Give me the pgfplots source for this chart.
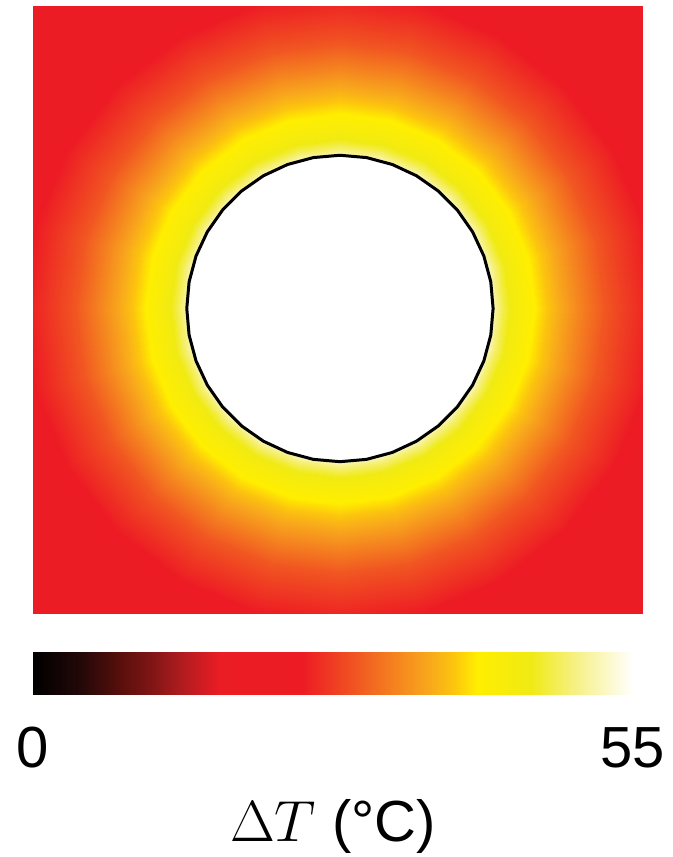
\documentclass[border=0pt]{standalone}
\usepackage{fix-cm}
\usepackage[no-math]{fontspec}
\setmainfont{Liberation Sans}
\usepackage{pgfplots}
\pgfplotsset{compat=1.18}
\begin{document}
\begin{tikzpicture}
\path[use as bounding box] (-16.5pt,-121.5pt) rectangle (320pt,307pt);
\begin{axis}[
  name=main,
  at={(0,0)}, anchor=south west,
  scale only axis, width=304.5pt, height=304pt,
  view={0}{90},
  xmin=-1.008, xmax=0.992, ymin=-1.003, ymax=0.993,
  hide axis,
  colormap={heat}{
    rgb255(0pt)=(0,0,0);
    rgb255(8pt)=(35,8,8);
    rgb255(15pt)=(92,16,12);
    rgb255(20pt)=(130,22,22);
    rgb255(25pt)=(178,28,32);
    rgb255(31pt)=(234,28,36);
    rgb255(45pt)=(237,28,36);
    rgb255(52pt)=(240,74,34);
    rgb255(59pt)=(244,122,32);
    rgb255(66pt)=(248,168,28);
    rgb255(70pt)=(252,196,14);
    rgb255(74pt)=(255,238,0);
    rgb255(83pt)=(240,234,20);
    rgb255(90pt)=(246,240,128);
    rgb255(100pt)=(255,255,255)
  },
  point meta min=0, point meta max=55,
  colorbar horizontal,
  colorbar/width=21pt,
  colorbar style={
    at={(parent axis.south west)}, anchor=north west, yshift=-10.5pt,
    scale only axis, width=300pt, height=21pt,
    xtick={0,55}, xticklabels={0,55},
    major tick length=0pt,
    axis line style={draw=none},
    xticklabel style={font=\fontsize{29}{34}\selectfont, inner sep=0pt, yshift=-16.5pt},
    xlabel={$\Delta T$ (°C)},
    xlabel style={font=\fontsize{29}{34}\selectfont, at={(axis description cs:0.5,0)}, anchor=base, yshift=-73.5pt},
  },
]
\addplot3[surf, shader=interp, data cs=polar, mesh/cols=25, point meta=z] coordinates {
(0,0.46,53) (15,0.46,53) (30,0.46,53) (45,0.46,53) (60,0.46,53) (75,0.46,53) (90,0.46,53) (105,0.46,53) (120,0.46,53) (135,0.46,53) (150,0.46,53) (165,0.46,53) (180,0.46,53) (195,0.46,53) (210,0.46,53) (225,0.46,53) (240,0.46,53) (255,0.46,53) (270,0.46,53) (285,0.46,53) (300,0.46,53) (315,0.46,53) (330,0.46,53) (345,0.46,53) (360,0.46,53)
(0,0.50,52.5) (15,0.50,52.5) (30,0.50,52.5) (45,0.50,52.5) (60,0.50,52.5) (75,0.50,52.5) (90,0.50,52.5) (105,0.50,52.5) (120,0.50,52.5) (135,0.50,52.5) (150,0.50,52.5) (165,0.50,52.5) (180,0.50,52.5) (195,0.50,52.5) (210,0.50,52.5) (225,0.50,52.5) (240,0.50,52.5) (255,0.50,52.5) (270,0.50,52.5) (285,0.50,52.5) (300,0.50,52.5) (315,0.50,52.5) (330,0.50,52.5) (345,0.50,52.5) (360,0.50,52.5)
(0,0.52,49.5) (15,0.52,49.5) (30,0.52,49.5) (45,0.52,49.5) (60,0.52,49.5) (75,0.52,49.5) (90,0.52,49.5) (105,0.52,49.5) (120,0.52,49.5) (135,0.52,49.5) (150,0.52,49.5) (165,0.52,49.5) (180,0.52,49.5) (195,0.52,49.5) (210,0.52,49.5) (225,0.52,49.5) (240,0.52,49.5) (255,0.52,49.5) (270,0.52,49.5) (285,0.52,49.5) (300,0.52,49.5) (315,0.52,49.5) (330,0.52,49.5) (345,0.52,49.5) (360,0.52,49.5)
(0,0.54,47.3) (15,0.54,47.3) (30,0.54,47.3) (45,0.54,47.3) (60,0.54,47.3) (75,0.54,47.3) (90,0.54,47.3) (105,0.54,47.3) (120,0.54,47.3) (135,0.54,47.3) (150,0.54,47.3) (165,0.54,47.3) (180,0.54,47.3) (195,0.54,47.3) (210,0.54,47.3) (225,0.54,47.3) (240,0.54,47.3) (255,0.54,47.3) (270,0.54,47.3) (285,0.54,47.3) (300,0.54,47.3) (315,0.54,47.3) (330,0.54,47.3) (345,0.54,47.3) (360,0.54,47.3)
(0,0.57,44.4) (15,0.57,44.4) (30,0.57,44.4) (45,0.57,44.4) (60,0.57,44.4) (75,0.57,44.4) (90,0.57,44.4) (105,0.57,44.4) (120,0.57,44.4) (135,0.57,44.4) (150,0.57,44.4) (165,0.57,44.4) (180,0.57,44.4) (195,0.57,44.4) (210,0.57,44.4) (225,0.57,44.4) (240,0.57,44.4) (255,0.57,44.4) (270,0.57,44.4) (285,0.57,44.4) (300,0.57,44.4) (315,0.57,44.4) (330,0.57,44.4) (345,0.57,44.4) (360,0.57,44.4)
(0,0.62,41.8) (15,0.62,41.8) (30,0.62,41.8) (45,0.62,41.8) (60,0.62,41.8) (75,0.62,41.8) (90,0.62,41.8) (105,0.62,41.8) (120,0.62,41.8) (135,0.62,41.8) (150,0.62,41.8) (165,0.62,41.8) (180,0.62,41.8) (195,0.62,41.8) (210,0.62,41.8) (225,0.62,41.8) (240,0.62,41.8) (255,0.62,41.8) (270,0.62,41.8) (285,0.62,41.8) (300,0.62,41.8) (315,0.62,41.8) (330,0.62,41.8) (345,0.62,41.8) (360,0.62,41.8)
(0,0.66,39.6) (15,0.66,39.6) (30,0.66,39.6) (45,0.66,39.6) (60,0.66,39.6) (75,0.66,39.6) (90,0.66,39.6) (105,0.66,39.6) (120,0.66,39.6) (135,0.66,39.6) (150,0.66,39.6) (165,0.66,39.6) (180,0.66,39.6) (195,0.66,39.6) (210,0.66,39.6) (225,0.66,39.6) (240,0.66,39.6) (255,0.66,39.6) (270,0.66,39.6) (285,0.66,39.6) (300,0.66,39.6) (315,0.66,39.6) (330,0.66,39.6) (345,0.66,39.6) (360,0.66,39.6)
(0,0.70,37.6) (15,0.70,37.6) (30,0.70,37.6) (45,0.70,37.6) (60,0.70,37.6) (75,0.70,37.6) (90,0.70,37.6) (105,0.70,37.6) (120,0.70,37.6) (135,0.70,37.6) (150,0.70,37.6) (165,0.70,37.6) (180,0.70,37.6) (195,0.70,37.6) (210,0.70,37.6) (225,0.70,37.6) (240,0.70,37.6) (255,0.70,37.6) (270,0.70,37.6) (285,0.70,37.6) (300,0.70,37.6) (315,0.70,37.6) (330,0.70,37.6) (345,0.70,37.6) (360,0.70,37.6)
(0,0.79,33.2) (15,0.79,33.2) (30,0.79,33.2) (45,0.79,33.2) (60,0.79,33.2) (75,0.79,33.2) (90,0.79,33.2) (105,0.79,33.2) (120,0.79,33.2) (135,0.79,33.2) (150,0.79,33.2) (165,0.79,33.2) (180,0.79,33.2) (195,0.79,33.2) (210,0.79,33.2) (225,0.79,33.2) (240,0.79,33.2) (255,0.79,33.2) (270,0.79,33.2) (285,0.79,33.2) (300,0.79,33.2) (315,0.79,33.2) (330,0.79,33.2) (345,0.79,33.2) (360,0.79,33.2)
(0,0.87,29.6) (15,0.87,29.6) (30,0.87,29.6) (45,0.87,29.6) (60,0.87,29.6) (75,0.87,29.6) (90,0.87,29.6) (105,0.87,29.6) (120,0.87,29.6) (135,0.87,29.6) (150,0.87,29.6) (165,0.87,29.6) (180,0.87,29.6) (195,0.87,29.6) (210,0.87,29.6) (225,0.87,29.6) (240,0.87,29.6) (255,0.87,29.6) (270,0.87,29.6) (285,0.87,29.6) (300,0.87,29.6) (315,0.87,29.6) (330,0.87,29.6) (345,0.87,29.6) (360,0.87,29.6)
(0,0.97,26.6) (15,0.97,26.6) (30,0.97,26.6) (45,0.97,26.6) (60,0.97,26.6) (75,0.97,26.6) (90,0.97,26.6) (105,0.97,26.6) (120,0.97,26.6) (135,0.97,26.6) (150,0.97,26.6) (165,0.97,26.6) (180,0.97,26.6) (195,0.97,26.6) (210,0.97,26.6) (225,0.97,26.6) (240,0.97,26.6) (255,0.97,26.6) (270,0.97,26.6) (285,0.97,26.6) (300,0.97,26.6) (315,0.97,26.6) (330,0.97,26.6) (345,0.97,26.6) (360,0.97,26.6)
(0,1.08,23.4) (15,1.08,23.4) (30,1.08,23.4) (45,1.08,23.4) (60,1.08,23.4) (75,1.08,23.4) (90,1.08,23.4) (105,1.08,23.4) (120,1.08,23.4) (135,1.08,23.4) (150,1.08,23.4) (165,1.08,23.4) (180,1.08,23.4) (195,1.08,23.4) (210,1.08,23.4) (225,1.08,23.4) (240,1.08,23.4) (255,1.08,23.4) (270,1.08,23.4) (285,1.08,23.4) (300,1.08,23.4) (315,1.08,23.4) (330,1.08,23.4) (345,1.08,23.4) (360,1.08,23.4)
(0,1.23,20.5) (15,1.23,20.5) (30,1.23,20.5) (45,1.23,20.5) (60,1.23,20.5) (75,1.23,20.5) (90,1.23,20.5) (105,1.23,20.5) (120,1.23,20.5) (135,1.23,20.5) (150,1.23,20.5) (165,1.23,20.5) (180,1.23,20.5) (195,1.23,20.5) (210,1.23,20.5) (225,1.23,20.5) (240,1.23,20.5) (255,1.23,20.5) (270,1.23,20.5) (285,1.23,20.5) (300,1.23,20.5) (315,1.23,20.5) (330,1.23,20.5) (345,1.23,20.5) (360,1.23,20.5)
(0,1.50,19.5) (15,1.50,19.5) (30,1.50,19.5) (45,1.50,19.5) (60,1.50,19.5) (75,1.50,19.5) (90,1.50,19.5) (105,1.50,19.5) (120,1.50,19.5) (135,1.50,19.5) (150,1.50,19.5) (165,1.50,19.5) (180,1.50,19.5) (195,1.50,19.5) (210,1.50,19.5) (225,1.50,19.5) (240,1.50,19.5) (255,1.50,19.5) (270,1.50,19.5) (285,1.50,19.5) (300,1.50,19.5) (315,1.50,19.5) (330,1.50,19.5) (345,1.50,19.5) (360,1.50,19.5)
};
\addplot3[data cs=polar, mark=none, draw=black, line width=1.5pt, fill=white] coordinates {
(0,0.503,52.5) (10,0.503,52.5) (20,0.503,52.5) (30,0.503,52.5) (40,0.503,52.5) (50,0.503,52.5) (60,0.503,52.5) (70,0.503,52.5) (80,0.503,52.5) (90,0.503,52.5) (100,0.503,52.5) (110,0.503,52.5) (120,0.503,52.5) (130,0.503,52.5) (140,0.503,52.5) (150,0.503,52.5) (160,0.503,52.5) (170,0.503,52.5) (180,0.503,52.5) (190,0.503,52.5) (200,0.503,52.5) (210,0.503,52.5) (220,0.503,52.5) (230,0.503,52.5) (240,0.503,52.5) (250,0.503,52.5) (260,0.503,52.5) (270,0.503,52.5) (280,0.503,52.5) (290,0.503,52.5) (300,0.503,52.5) (310,0.503,52.5) (320,0.503,52.5) (330,0.503,52.5) (340,0.503,52.5) (350,0.503,52.5) (360,0.503,52.5)
};
\end{axis}
\end{tikzpicture}
\end{document}
